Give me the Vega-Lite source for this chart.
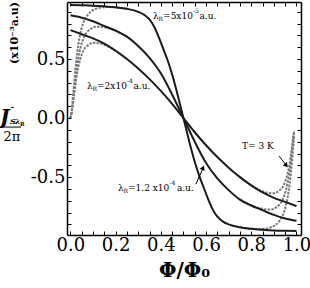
{
  "$schema": "https://vega.github.io/schema/vega-lite/v6.json",
  "width": 234,
  "height": 233,
  "autosize": {"type": "none"},
  "padding": {"left": 67, "top": 2, "right": 9, "bottom": 53},
  "background": "white",
  "config": {
    "view": {"stroke": null},
    "axis": {
      "domainColor": "black", "domainWidth": 1.5, "tickColor": "black", "tickWidth": 1,
      "tickSize": -4, "labelFont": "DejaVu Serif", "labelFontSize": 18, "labelColor": "black",
      "grid": false, "labelFlush": false, "labelOverlap": false,
      "titleFont": "DejaVu Serif", "titleColor": "black"
    },
    "text": {"font": "DejaVu Serif", "color": "black"}
  },
  "datasets": {
    "curves": [
      {"c":"A","t":"s","x":0,"y":0.957},{"c":"A","t":"s","x":0.05,"y":0.955},{"c":"A","t":"s","x":0.1,"y":0.952},{"c":"A","t":"s","x":0.15,"y":0.946},{"c":"A","t":"s","x":0.2,"y":0.938},{"c":"A","t":"s","x":0.25,"y":0.925},{"c":"A","t":"s","x":0.3,"y":0.90},{"c":"A","t":"s","x":0.33,"y":0.87},{"c":"A","t":"s","x":0.35,"y":0.835},{"c":"A","t":"s","x":0.37,"y":0.775},{"c":"A","t":"s","x":0.39,"y":0.69},{"c":"A","t":"s","x":0.41,"y":0.59},{"c":"A","t":"s","x":0.43,"y":0.49},{"c":"A","t":"s","x":0.45,"y":0.37},{"c":"A","t":"s","x":0.47,"y":0.23},{"c":"A","t":"s","x":0.485,"y":0.115},{"c":"A","t":"s","x":0.5,"y":0},{"c":"A","t":"s","x":0.515,"y":-0.115},{"c":"A","t":"s","x":0.53,"y":-0.23},{"c":"A","t":"s","x":0.55,"y":-0.37},{"c":"A","t":"s","x":0.57,"y":-0.49},{"c":"A","t":"s","x":0.59,"y":-0.59},{"c":"A","t":"s","x":0.61,"y":-0.69},{"c":"A","t":"s","x":0.63,"y":-0.775},{"c":"A","t":"s","x":0.65,"y":-0.835},{"c":"A","t":"s","x":0.67,"y":-0.87},{"c":"A","t":"s","x":0.7,"y":-0.90},{"c":"A","t":"s","x":0.75,"y":-0.925},{"c":"A","t":"s","x":0.8,"y":-0.938},{"c":"A","t":"s","x":0.85,"y":-0.946},{"c":"A","t":"s","x":0.9,"y":-0.952},{"c":"A","t":"s","x":0.95,"y":-0.955},{"c":"A","t":"s","x":1,"y":-0.957},
      {"c":"B","t":"s","x":0,"y":0.87},{"c":"B","t":"s","x":0.05,"y":0.85},{"c":"B","t":"s","x":0.1,"y":0.82},{"c":"B","t":"s","x":0.15,"y":0.78},{"c":"B","t":"s","x":0.2,"y":0.74},{"c":"B","t":"s","x":0.25,"y":0.69},{"c":"B","t":"s","x":0.3,"y":0.61},{"c":"B","t":"s","x":0.35,"y":0.51},{"c":"B","t":"s","x":0.4,"y":0.38},{"c":"B","t":"s","x":0.45,"y":0.20},{"c":"B","t":"s","x":0.5,"y":0},{"c":"B","t":"s","x":0.55,"y":-0.20},{"c":"B","t":"s","x":0.6,"y":-0.38},{"c":"B","t":"s","x":0.65,"y":-0.51},{"c":"B","t":"s","x":0.7,"y":-0.61},{"c":"B","t":"s","x":0.75,"y":-0.69},{"c":"B","t":"s","x":0.8,"y":-0.74},{"c":"B","t":"s","x":0.85,"y":-0.78},{"c":"B","t":"s","x":0.9,"y":-0.82},{"c":"B","t":"s","x":0.95,"y":-0.85},{"c":"B","t":"s","x":1,"y":-0.87},
      {"c":"C","t":"s","x":0,"y":0.745},{"c":"C","t":"s","x":0.05,"y":0.71},{"c":"C","t":"s","x":0.1,"y":0.675},{"c":"C","t":"s","x":0.15,"y":0.63},{"c":"C","t":"s","x":0.2,"y":0.57},{"c":"C","t":"s","x":0.25,"y":0.50},{"c":"C","t":"s","x":0.3,"y":0.42},{"c":"C","t":"s","x":0.35,"y":0.33},{"c":"C","t":"s","x":0.4,"y":0.23},{"c":"C","t":"s","x":0.45,"y":0.12},{"c":"C","t":"s","x":0.5,"y":0},{"c":"C","t":"s","x":0.55,"y":-0.12},{"c":"C","t":"s","x":0.6,"y":-0.23},{"c":"C","t":"s","x":0.65,"y":-0.33},{"c":"C","t":"s","x":0.7,"y":-0.42},{"c":"C","t":"s","x":0.75,"y":-0.50},{"c":"C","t":"s","x":0.8,"y":-0.57},{"c":"C","t":"s","x":0.85,"y":-0.63},{"c":"C","t":"s","x":0.9,"y":-0.675},{"c":"C","t":"s","x":0.95,"y":-0.71},{"c":"C","t":"s","x":1,"y":-0.745},
      {"c":"AL","t":"d","x":0,"y":0},{"c":"AL","t":"d","x":0.005,"y":0.057},{"c":"AL","t":"d","x":0.01,"y":0.153},{"c":"AL","t":"d","x":0.015,"y":0.258},{"c":"AL","t":"d","x":0.02,"y":0.372},{"c":"AL","t":"d","x":0.03,"y":0.554},{"c":"AL","t":"d","x":0.04,"y":0.678},{"c":"AL","t":"d","x":0.05,"y":0.764},{"c":"AL","t":"d","x":0.06,"y":0.821},{"c":"AL","t":"d","x":0.075,"y":0.869},{"c":"AL","t":"d","x":0.09,"y":0.902},{"c":"AL","t":"d","x":0.11,"y":0.922},{"c":"AL","t":"d","x":0.13,"y":0.935},{"c":"AL","t":"d","x":0.16,"y":0.94},{"c":"AL","t":"d","x":0.2,"y":0.938},{"c":"AL","t":"d","x":0.25,"y":0.925},
      {"c":"BL","t":"d","x":0,"y":0},{"c":"BL","t":"d","x":0.005,"y":0.043},{"c":"BL","t":"d","x":0.01,"y":0.113},{"c":"BL","t":"d","x":0.015,"y":0.194},{"c":"BL","t":"d","x":0.02,"y":0.284},{"c":"BL","t":"d","x":0.03,"y":0.438},{"c":"BL","t":"d","x":0.04,"y":0.555},{"c":"BL","t":"d","x":0.05,"y":0.633},{"c":"BL","t":"d","x":0.06,"y":0.684},{"c":"BL","t":"d","x":0.075,"y":0.731},{"c":"BL","t":"d","x":0.09,"y":0.756},{"c":"BL","t":"d","x":0.11,"y":0.773},{"c":"BL","t":"d","x":0.13,"y":0.774},{"c":"BL","t":"d","x":0.16,"y":0.764},{"c":"BL","t":"d","x":0.2,"y":0.74},{"c":"BL","t":"d","x":0.25,"y":0.69},
      {"c":"CL","t":"d","x":0,"y":0},{"c":"CL","t":"d","x":0.005,"y":0.041},{"c":"CL","t":"d","x":0.01,"y":0.101},{"c":"CL","t":"d","x":0.015,"y":0.176},{"c":"CL","t":"d","x":0.02,"y":0.249},{"c":"CL","t":"d","x":0.03,"y":0.384},{"c":"CL","t":"d","x":0.04,"y":0.473},{"c":"CL","t":"d","x":0.05,"y":0.536},{"c":"CL","t":"d","x":0.06,"y":0.58},{"c":"CL","t":"d","x":0.075,"y":0.612},{"c":"CL","t":"d","x":0.09,"y":0.631},{"c":"CL","t":"d","x":0.11,"y":0.637},{"c":"CL","t":"d","x":0.13,"y":0.632},{"c":"CL","t":"d","x":0.16,"y":0.612},{"c":"CL","t":"d","x":0.2,"y":0.57},{"c":"CL","t":"d","x":0.25,"y":0.50},
      {"c":"AR","t":"d","x":0.75,"y":-0.925},{"c":"AR","t":"d","x":0.8,"y":-0.938},{"c":"AR","t":"d","x":0.84,"y":-0.94},{"c":"AR","t":"d","x":0.87,"y":-0.935},{"c":"AR","t":"d","x":0.89,"y":-0.922},{"c":"AR","t":"d","x":0.91,"y":-0.902},{"c":"AR","t":"d","x":0.925,"y":-0.869},{"c":"AR","t":"d","x":0.94,"y":-0.821},{"c":"AR","t":"d","x":0.95,"y":-0.764},{"c":"AR","t":"d","x":0.96,"y":-0.678},{"c":"AR","t":"d","x":0.97,"y":-0.554},{"c":"AR","t":"d","x":0.98,"y":-0.372},{"c":"AR","t":"d","x":0.985,"y":-0.258},{"c":"AR","t":"d","x":0.99,"y":-0.153},
      {"c":"BR","t":"d","x":0.75,"y":-0.69},{"c":"BR","t":"d","x":0.8,"y":-0.74},{"c":"BR","t":"d","x":0.84,"y":-0.764},{"c":"BR","t":"d","x":0.87,"y":-0.774},{"c":"BR","t":"d","x":0.89,"y":-0.773},{"c":"BR","t":"d","x":0.91,"y":-0.756},{"c":"BR","t":"d","x":0.925,"y":-0.731},{"c":"BR","t":"d","x":0.94,"y":-0.684},{"c":"BR","t":"d","x":0.95,"y":-0.633},{"c":"BR","t":"d","x":0.96,"y":-0.555},{"c":"BR","t":"d","x":0.97,"y":-0.438},{"c":"BR","t":"d","x":0.98,"y":-0.284},{"c":"BR","t":"d","x":0.985,"y":-0.194},{"c":"BR","t":"d","x":0.99,"y":-0.113},
      {"c":"CR","t":"d","x":0.75,"y":-0.50},{"c":"CR","t":"d","x":0.8,"y":-0.57},{"c":"CR","t":"d","x":0.84,"y":-0.612},{"c":"CR","t":"d","x":0.87,"y":-0.632},{"c":"CR","t":"d","x":0.89,"y":-0.637},{"c":"CR","t":"d","x":0.91,"y":-0.631},{"c":"CR","t":"d","x":0.925,"y":-0.612},{"c":"CR","t":"d","x":0.94,"y":-0.58},{"c":"CR","t":"d","x":0.95,"y":-0.536},{"c":"CR","t":"d","x":0.96,"y":-0.473},{"c":"CR","t":"d","x":0.97,"y":-0.384},{"c":"CR","t":"d","x":0.98,"y":-0.249},{"c":"CR","t":"d","x":0.985,"y":-0.176},{"c":"CR","t":"d","x":0.99,"y":-0.101}
    ],
    "notes": [
      {"k":"m","x":0.3655,"y":0.839,"s":"λ"},{"k":"m","x":0.41,"y":0.839,"s":"=5x10"},{"k":"m","x":0.571,"y":0.839,"s":"a.u."},
      {"k":"m","x":0.0735,"y":0.246,"s":"λ"},{"k":"m","x":0.118,"y":0.246,"s":"=2x10"},{"k":"m","x":0.279,"y":0.246,"s":"a.u."},
      {"k":"m","x":0.2106,"y":-0.619,"s":"λ"},{"k":"m","x":0.255,"y":-0.619,"s":"=1.2 x10"},{"k":"m","x":0.471,"y":-0.619,"s":"a.u."},
      {"k":"m","x":0.759,"y":-0.263,"s":"T= 3 K"},
      {"k":"u","x":0.39,"y":0.822,"s":"R"},{"k":"u","x":0.5425,"y":0.89,"s":"-5"},
      {"k":"u","x":0.098,"y":0.229,"s":"R"},{"k":"u","x":0.25,"y":0.297,"s":"-4"},
      {"k":"u","x":0.235,"y":-0.636,"s":"R"},{"k":"u","x":0.438,"y":-0.568,"s":"-4"},
      {"k":"J","x":-0.3115,"y":-0.051,"s":"J"},
      {"k":"ji","x":-0.2673,"y":-0.051,"s":"S"},{"k":"ji","x":-0.264,"y":0.066,"s":"-"},{"k":"ji","x":-0.245,"y":-0.051,"s":"λ"},
      {"k":"jr","x":-0.223,"y":-0.068,"s":"R"},
      {"k":"pi","x":-0.2584,"y":-0.195,"s":"2π"},
      {"k":"rot","x":-0.245,"y":0.72,"s":"(x10⁻³a.u)"}
    ],
    "segs": [
      {"k":"frac","x":-0.3115,"x2":-0.218,"y":-0.076,"y2":-0.076},
      {"k":"arr","x":0.923,"y":-0.322,"x2":0.958,"y2":-0.407},
      {"k":"arr","x":0.555,"y":-0.56,"x2":0.589,"y2":-0.415}
    ],
    "heads": [
      {"k":"h1","x":0.955,"y":-0.402},
      {"k":"h2","x":0.587,"y":-0.42}
    ]
  },
  "layer": [
    {
      "mark": {"type": "rule", "color": "#555555", "strokeWidth": 1},
      "encoding": {
        "y": {"datum": 0, "type": "quantitative", "scale": {"domain": [-0.99, 0.983], "nice": false, "zero": false}, "axis": null}
      }
    },
    {
      "data": {"name": "curves"},
      "transform": [{"filter": "datum.t == 'd'"}],
      "mark": {"type": "line", "color": "#7a7a7a", "strokeWidth": 2, "strokeDash": [2.5, 1.2], "interpolate": "monotone"},
      "encoding": {
        "x": {"field": "x", "type": "quantitative", "scale": {"domain": [-0.015, 1.02], "nice": false, "zero": false},
          "axis": {"orient": "top", "labels": false, "title": null, "values": [0,0.05,0.1,0.15,0.2,0.25,0.3,0.35,0.4,0.45,0.5,0.55,0.6,0.65,0.7,0.75,0.8,0.85,0.9,0.95,1]}},
        "y": {"field": "y", "type": "quantitative", "scale": {"domain": [-0.99, 0.983], "nice": false, "zero": false},
          "axis": {"orient": "right", "labels": false, "title": null, "values": [-0.9,-0.8,-0.7,-0.6,-0.5,-0.4,-0.3,-0.2,-0.1,0,0.1,0.2,0.3,0.4,0.5,0.6,0.7,0.8,0.9]}},
        "detail": {"field": "c"}
      }
    },
    {
      "data": {"name": "curves"},
      "transform": [{"filter": "datum.t == 's'"}],
      "mark": {"type": "line", "color": "#1c1c1c", "strokeWidth": 2, "interpolate": "monotone"},
      "encoding": {
        "x": {"field": "x", "type": "quantitative", "scale": {"domain": [-0.015, 1.02], "nice": false, "zero": false},
          "axis": {"orient": "bottom", "title": "Φ/Φ₀", "titleFontSize": 20, "titleFontWeight": "bold", "titlePadding": 6, "labelPadding": 5,
            "values": [0,0.05,0.1,0.15,0.2,0.25,0.3,0.35,0.4,0.45,0.5,0.55,0.6,0.65,0.7,0.75,0.8,0.85,0.9,0.95,1],
            "labelExpr": "(datum.value==0||datum.value==0.2||datum.value==0.4||datum.value==0.6||datum.value==0.8||datum.value==1) ? format(datum.value,'.1f') : ''"}},
        "y": {"field": "y", "type": "quantitative", "scale": {"domain": [-0.99, 0.983], "nice": false, "zero": false},
          "axis": {"orient": "left", "title": null, "labelPadding": 6,
            "values": [-0.9,-0.8,-0.7,-0.6,-0.5,-0.4,-0.3,-0.2,-0.1,0,0.1,0.2,0.3,0.4,0.5,0.6,0.7,0.8,0.9],
            "labelExpr": "datum.value==0.5 ? '0.5' : datum.value==0 ? '0.0' : datum.value==-0.5 ? '-0.5' : ''"}},
        "detail": {"field": "c"}
      }
    },
    {
      "data": {"name": "notes"},
      "transform": [{"filter": "datum.k == 'm'"}],
      "mark": {"type": "text", "fontSize": 9, "align": "left", "baseline": "alphabetic"},
      "encoding": {"x": {"field": "x", "type": "quantitative", "axis": null}, "y": {"field": "y", "type": "quantitative", "axis": null}, "text": {"field": "s"}}
    },
    {
      "data": {"name": "notes"},
      "transform": [{"filter": "datum.k == 'u'"}],
      "mark": {"type": "text", "fontSize": 6, "align": "left", "baseline": "alphabetic"},
      "encoding": {"x": {"field": "x", "type": "quantitative", "axis": null}, "y": {"field": "y", "type": "quantitative", "axis": null}, "text": {"field": "s"}}
    },
    {
      "data": {"name": "notes"},
      "transform": [{"filter": "datum.k == 'J'"}],
      "mark": {"type": "text", "fontSize": 20, "fontWeight": "bold", "fontStyle": "italic", "align": "left", "baseline": "alphabetic"},
      "encoding": {"x": {"field": "x", "type": "quantitative", "axis": null}, "y": {"field": "y", "type": "quantitative", "axis": null}, "text": {"field": "s"}}
    },
    {
      "data": {"name": "notes"},
      "transform": [{"filter": "datum.k == 'ji'"}],
      "mark": {"type": "text", "fontSize": 8, "fontWeight": "bold", "fontStyle": "italic", "align": "left", "baseline": "alphabetic"},
      "encoding": {"x": {"field": "x", "type": "quantitative", "axis": null}, "y": {"field": "y", "type": "quantitative", "axis": null}, "text": {"field": "s"}}
    },
    {
      "data": {"name": "notes"},
      "transform": [{"filter": "datum.k == 'jr'"}],
      "mark": {"type": "text", "fontSize": 5.5, "fontWeight": "bold", "align": "left", "baseline": "alphabetic"},
      "encoding": {"x": {"field": "x", "type": "quantitative", "axis": null}, "y": {"field": "y", "type": "quantitative", "axis": null}, "text": {"field": "s"}}
    },
    {
      "data": {"name": "notes"},
      "transform": [{"filter": "datum.k == 'pi'"}],
      "mark": {"type": "text", "fontSize": 13, "align": "center", "baseline": "alphabetic"},
      "encoding": {"x": {"field": "x", "type": "quantitative", "axis": null}, "y": {"field": "y", "type": "quantitative", "axis": null}, "text": {"field": "s"}}
    },
    {
      "data": {"name": "notes"},
      "transform": [{"filter": "datum.k == 'rot'"}],
      "mark": {"type": "text", "fontSize": 11, "fontWeight": "bold", "align": "center", "baseline": "middle", "angle": 270},
      "encoding": {"x": {"field": "x", "type": "quantitative", "axis": null}, "y": {"field": "y", "type": "quantitative", "axis": null}, "text": {"field": "s"}}
    },
    {
      "data": {"name": "segs"},
      "mark": {"type": "rule", "color": "black", "strokeWidth": 1},
      "encoding": {"x": {"field": "x", "type": "quantitative", "axis": null}, "y": {"field": "y", "type": "quantitative", "axis": null},
        "x2": {"field": "x2"}, "y2": {"field": "y2"}}
    },
    {
      "data": {"name": "heads"},
      "transform": [{"filter": "datum.k == 'h1'"}],
      "mark": {"type": "point", "shape": "triangle-up", "filled": true, "color": "black", "size": 28, "angle": 141, "opacity": 1},
      "encoding": {"x": {"field": "x", "type": "quantitative", "axis": null}, "y": {"field": "y", "type": "quantitative", "axis": null}}
    },
    {
      "data": {"name": "heads"},
      "transform": [{"filter": "datum.k == 'h2'"}],
      "mark": {"type": "point", "shape": "triangle-up", "filled": true, "color": "black", "size": 28, "angle": 25, "opacity": 1},
      "encoding": {"x": {"field": "x", "type": "quantitative", "axis": null}, "y": {"field": "y", "type": "quantitative", "axis": null}}
    }
  ],
  "resolve": {"axis": {"x": "independent", "y": "independent"}}
}
